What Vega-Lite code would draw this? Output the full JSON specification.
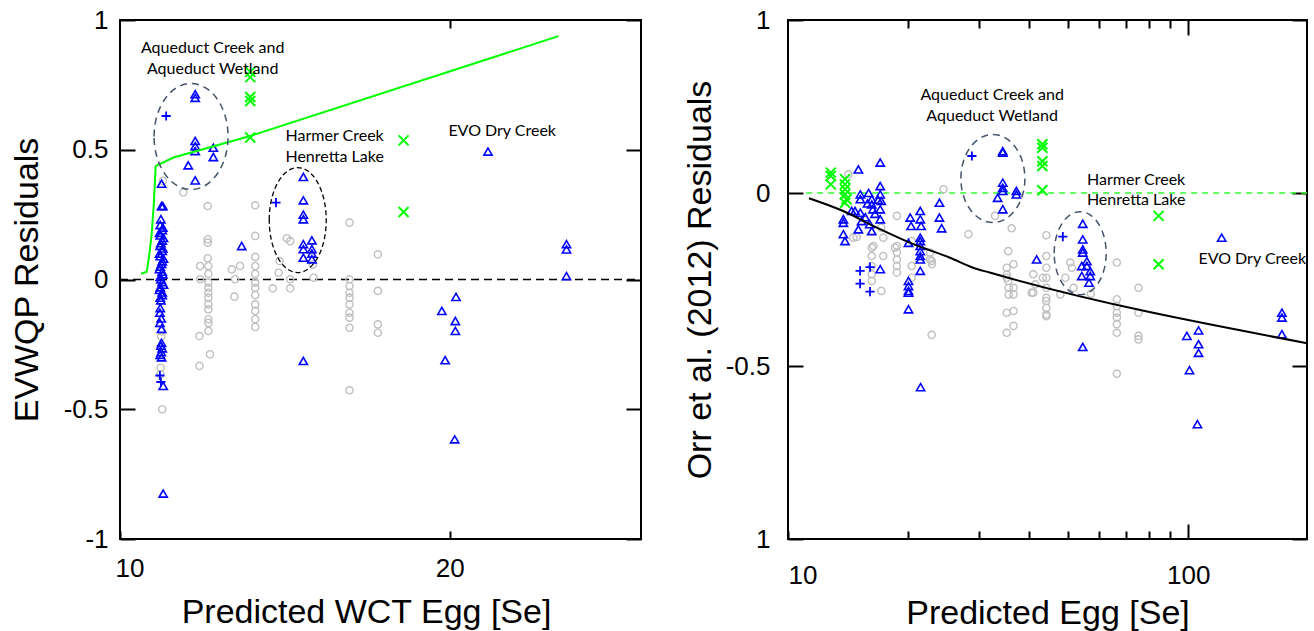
{
"$schema": "https://vega.github.io/schema/vega-lite/v6.json",
"background": "white",
"padding": {"left": 9, "top": 6, "right": 3, "bottom": 0},
"spacing": 37,
"config": {
  "view": {"stroke": "black", "strokeWidth": 2},
  "axis": {"grid": false, "domain": false, "labelFont": "Liberation Sans", "labelFontSize": 26, "labelColor": "black", "titleFont": "Liberation Sans", "titleFontSize": 34, "titleFontWeight": "normal", "titleColor": "black", "tickColor": "black", "tickWidth": 2, "labelAngle": 0},
  "text": {"font": "Lato", "fontSize": 16, "color": "black"}
},
"datasets": {
  "zeroL": [{"x": 10, "y": 0}, {"x": 25.8, "y": 0}],
  "zeroR": [{"x": 11.1, "y": 0}, {"x": 198, "y": 0}],
  "curveL": [{"x":10.64,"y":0.022},{"x":10.81,"y":0.03},{"x":10.89,"y":0.097},{"x":10.96,"y":0.175},{"x":11.03,"y":0.3},{"x":11.08,"y":0.437},{"x":11.62,"y":0.47},{"x":13.95,"y":0.553},{"x":23.3,"y":0.938}],
  "curveR": [{"x":11.28,"y":-0.015},{"x":13.74,"y":-0.052},{"x":16.67,"y":-0.1},{"x":20.5,"y":-0.147},{"x":25.4,"y":-0.187},{"x":29.0,"y":-0.216},{"x":31.9,"y":-0.23},{"x":198,"y":-0.434}],
  "textL": [
    {"x":12.81,"y":0.893,"t":"Aqueduct Creek and"},{"x":12.81,"y":0.812,"t":"Aqueduct Wetland"},
    {"x":16.51,"y":0.553,"t":"Harmer Creek"},{"x":16.51,"y":0.472,"t":"Henretta Lake"},
    {"x":21.59,"y":0.572,"t":"EVO Dry Creek"}],
  "textR": [
    {"x":32.36,"y":0.283,"t":"Aqueduct Creek and"},{"x":32.36,"y":0.2225,"t":"Aqueduct Wetland"},
    {"x":74.1,"y":0.0376,"t":"Harmer Creek"},{"x":74.1,"y":-0.021,"t":"Henretta Lake"},
    {"x":144.5,"y":-0.19,"t":"EVO Dry Creek"}],
  "ellL": [{"name":"Aqueduct","x":12.155,"y":0.551},{"name":"Harmer","x":15.39,"y":0.229}],
  "ellR": [{"name":"Aqueduct","x":32.5,"y":0.042},{"name":"Harmer","x":53.7,"y":-0.174}],
  "pointsL": [
{"x":11.92,"y":0.335,"g":"A"},{"x":12.66,"y":0.283,"g":"A"},{"x":14.1,"y":0.286,"g":"A"},{"x":12.66,"y":0.155,"g":"A"},{"x":12.66,"y":0.142,"g":"A"},{"x":14.1,"y":0.168,"g":"A"},{"x":15.06,"y":0.159,"g":"A"},{"x":15.16,"y":0.148,"g":"A"},{"x":16.96,"y":0.219,"g":"A"},{"x":17.82,"y":0.097,"g":"A"},
{"x":12.66,"y":0.082,"g":"A"},{"x":12.43,"y":0.052,"g":"A"},{"x":12.68,"y":0.052,"g":"A"},{"x":12.68,"y":0.022,"g":"A"},{"x":14.1,"y":0.087,"g":"A"},{"x":14.1,"y":0.052,"g":"A"},{"x":14.1,"y":0.022,"g":"A"},{"x":13.39,"y":0.039,"g":"A"},{"x":13.64,"y":0.052,"g":"A"},{"x":13.49,"y":0.001,"g":"A"},
{"x":14.84,"y":0.071,"g":"A"},{"x":14.81,"y":0.026,"g":"A"},{"x":15.16,"y":0.001,"g":"A"},{"x":15.85,"y":0.058,"g":"A"},{"x":15.87,"y":0.007,"g":"A"},{"x":16.96,"y":0.001,"g":"A"},{"x":16.96,"y":-0.025,"g":"A"},{"x":16.96,"y":-0.051,"g":"A"},{"x":16.96,"y":-0.07,"g":"A"},{"x":17.82,"y":-0.044,"g":"A"},
{"x":12.43,"y":0.001,"g":"A"},{"x":12.68,"y":-0.012,"g":"A"},{"x":12.68,"y":-0.032,"g":"A"},{"x":12.68,"y":-0.051,"g":"A"},{"x":12.68,"y":-0.07,"g":"A"},{"x":14.1,"y":-0.012,"g":"A"},{"x":14.1,"y":-0.032,"g":"A"},{"x":14.1,"y":-0.06,"g":"A"},{"x":13.47,"y":-0.066,"g":"A"},{"x":14.63,"y":-0.034,"g":"A"},
{"x":15.16,"y":-0.034,"g":"A"},{"x":12.68,"y":-0.096,"g":"A"},{"x":12.68,"y":-0.115,"g":"A"},{"x":12.68,"y":-0.153,"g":"A"},{"x":12.68,"y":-0.167,"g":"A"},{"x":12.68,"y":-0.198,"g":"A"},{"x":12.41,"y":-0.218,"g":"A"},{"x":12.73,"y":-0.288,"g":"A"},{"x":12.41,"y":-0.333,"g":"A"},{"x":14.1,"y":-0.096,"g":"A"},
{"x":14.1,"y":-0.121,"g":"A"},{"x":14.1,"y":-0.153,"g":"A"},{"x":14.1,"y":-0.183,"g":"A"},{"x":16.96,"y":-0.096,"g":"A"},{"x":16.96,"y":-0.128,"g":"A"},{"x":16.96,"y":-0.147,"g":"A"},{"x":16.96,"y":-0.186,"g":"A"},{"x":16.96,"y":-0.427,"g":"A"},{"x":17.82,"y":-0.173,"g":"A"},{"x":17.82,"y":-0.205,"g":"A"},
{"x":11.28,"y":-0.5,"g":"A"},{"x":11.23,"y":-0.34,"g":"A"},{"x":11.23,"y":-0.365,"g":"A"},{"x":11.3,"y":0.38,"g":"A"},{"x":11.25,"y":-0.22,"g":"A"},{"x":11.27,"y":-0.2,"g":"A"},
{"x":12.28,"y":0.714,"g":"B"},{"x":12.28,"y":0.7,"g":"B"},{"x":12.28,"y":0.534,"g":"B"},{"x":12.28,"y":0.514,"g":"B"},{"x":12.28,"y":0.495,"g":"B"},{"x":12.83,"y":0.508,"g":"B"},{"x":12.83,"y":0.472,"g":"B"},{"x":12.07,"y":0.44,"g":"B"},{"x":12.28,"y":0.382,"g":"B"},
{"x":15.56,"y":0.395,"g":"B"},{"x":15.56,"y":0.305,"g":"B"},{"x":15.56,"y":0.25,"g":"B"},{"x":15.56,"y":0.232,"g":"B"},{"x":15.56,"y":0.136,"g":"B"},{"x":15.82,"y":0.151,"g":"B"},{"x":15.56,"y":0.117,"g":"B"},{"x":15.82,"y":0.117,"g":"B"},{"x":15.56,"y":0.084,"g":"B"},{"x":15.82,"y":0.078,"g":"B"},{"x":15.82,"y":0.1,"g":"B"},
{"x":13.69,"y":0.129,"g":"B"},
{"x":11.26,"y":0.369,"g":"B"},{"x":11.26,"y":0.283,"g":"B"},{"x":11.3,"y":0.283,"g":"B"},{"x":11.24,"y":0.232,"g":"B"},
{"x":11.22,"y":0.21,"g":"B"},{"x":11.28,"y":0.19,"g":"B"},{"x":11.22,"y":0.17,"g":"B"},{"x":11.28,"y":0.15,"g":"B"},{"x":11.22,"y":0.13,"g":"B"},{"x":11.28,"y":0.11,"g":"B"},{"x":11.22,"y":0.09,"g":"B"},{"x":11.28,"y":0.07,"g":"B"},{"x":11.22,"y":0.05,"g":"B"},{"x":11.28,"y":0.03,"g":"B"},{"x":11.22,"y":0.01,"g":"B"},{"x":11.28,"y":-0.01,"g":"B"},{"x":11.22,"y":-0.03,"g":"B"},{"x":11.28,"y":-0.05,"g":"B"},{"x":11.22,"y":-0.07,"g":"B"},
{"x":11.3,"y":0.2,"g":"B"},{"x":11.2,"y":0.18,"g":"B"},{"x":11.32,"y":0.16,"g":"B"},{"x":11.24,"y":0.14,"g":"B"},{"x":11.3,"y":0.12,"g":"B"},{"x":11.2,"y":0.1,"g":"B"},{"x":11.32,"y":0.08,"g":"B"},{"x":11.26,"y":0.06,"g":"B"},{"x":11.2,"y":0.04,"g":"B"},{"x":11.3,"y":0.02,"g":"B"},{"x":11.24,"y":0.0,"g":"B"},{"x":11.32,"y":-0.02,"g":"B"},{"x":11.2,"y":-0.04,"g":"B"},{"x":11.28,"y":-0.06,"g":"B"},{"x":11.24,"y":-0.08,"g":"B"},
{"x":11.22,"y":-0.11,"g":"B"},{"x":11.21,"y":-0.128,"g":"B"},{"x":11.25,"y":-0.15,"g":"B"},{"x":11.21,"y":-0.167,"g":"B"},{"x":11.26,"y":-0.19,"g":"B"},{"x":11.26,"y":-0.244,"g":"B"},{"x":11.24,"y":-0.255,"g":"B"},{"x":11.28,"y":-0.265,"g":"B"},{"x":11.25,"y":-0.28,"g":"B"},{"x":11.26,"y":-0.3,"g":"B"},{"x":11.22,"y":-0.29,"g":"B"},{"x":11.31,"y":-0.41,"g":"B"},{"x":11.31,"y":-0.825,"g":"B"},
{"x":19.76,"y":-0.121,"g":"B"},{"x":20.17,"y":-0.16,"g":"B"},{"x":20.17,"y":-0.198,"g":"B"},{"x":19.86,"y":-0.311,"g":"B"},{"x":20.15,"y":-0.616,"g":"B"},{"x":20.19,"y":-0.067,"g":"B"},{"x":23.54,"y":0.136,"g":"B"},{"x":23.54,"y":0.116,"g":"B"},{"x":23.54,"y":0.013,"g":"B"},{"x":21.16,"y":0.493,"g":"B"},{"x":15.56,"y":-0.314,"g":"B"},
{"x":11.4,"y":0.63,"g":"C"},{"x":14.73,"y":0.296,"g":"C"},{"x":11.21,"y":-0.37,"g":"C"},{"x":11.24,"y":-0.395,"g":"C"},
{"x":13.95,"y":0.8,"g":"D"},{"x":13.95,"y":0.78,"g":"D"},{"x":13.95,"y":0.703,"g":"D"},{"x":13.95,"y":0.688,"g":"D"},{"x":13.95,"y":0.547,"g":"D"},{"x":18.6,"y":0.536,"g":"D"},{"x":18.6,"y":0.26,"g":"D"}
  ],
  "pointsR": [
{"x":14.15,"y":0.054,"g":"A"},{"x":18.71,"y":-0.066,"g":"A"},{"x":16.19,"y":-0.158,"g":"A"},{"x":17.3,"y":-0.129,"g":"A"},{"x":16.19,"y":-0.182,"g":"A"},{"x":17.3,"y":-0.182,"g":"A"},{"x":16.19,"y":-0.211,"g":"A"},{"x":16.19,"y":-0.235,"g":"A"},{"x":16.19,"y":-0.254,"g":"A"},{"x":17.1,"y":-0.283,"g":"A"},
{"x":14.56,"y":-0.129,"g":"A"},{"x":18.71,"y":-0.153,"g":"A"},{"x":18.71,"y":-0.172,"g":"A"},{"x":18.71,"y":-0.192,"g":"A"},{"x":18.71,"y":-0.211,"g":"A"},{"x":18.71,"y":-0.23,"g":"A"},{"x":20.38,"y":-0.139,"g":"A"},{"x":20.38,"y":-0.211,"g":"A"},{"x":20.38,"y":-0.245,"g":"A"},{"x":22.65,"y":-0.172,"g":"A"},
{"x":22.65,"y":-0.192,"g":"A"},{"x":22.9,"y":-0.206,"g":"A"},{"x":24.46,"y":0.011,"g":"A"},{"x":28.23,"y":-0.119,"g":"A"},{"x":36.2,"y":-0.102,"g":"A"},{"x":35.5,"y":-0.168,"g":"A"},{"x":35.2,"y":-0.216,"g":"A"},{"x":35.2,"y":-0.235,"g":"A"},{"x":35.5,"y":-0.254,"g":"A"},{"x":35.6,"y":-0.274,"g":"A"},
{"x":35.6,"y":-0.293,"g":"A"},{"x":41,"y":-0.235,"g":"A"},{"x":43.3,"y":-0.245,"g":"A"},{"x":41.5,"y":-0.264,"g":"A"},{"x":41,"y":-0.288,"g":"A"},{"x":32.9,"y":-0.066,"g":"A"},{"x":44.2,"y":-0.122,"g":"A"},{"x":44.2,"y":-0.182,"g":"A"},{"x":44.2,"y":-0.216,"g":"A"},{"x":44.2,"y":-0.245,"g":"A"},
{"x":44.2,"y":-0.274,"g":"A"},{"x":44.2,"y":-0.303,"g":"A"},{"x":44.2,"y":-0.332,"g":"A"},{"x":44.2,"y":-0.351,"g":"A"},{"x":36.6,"y":-0.206,"g":"A"},{"x":35.2,"y":-0.245,"g":"A"},{"x":36.6,"y":-0.274,"g":"A"},{"x":36.6,"y":-0.293,"g":"A"},{"x":35.2,"y":-0.346,"g":"A"},{"x":36.6,"y":-0.341,"g":"A"},
{"x":35.2,"y":-0.404,"g":"A"},{"x":36.6,"y":-0.384,"g":"A"},{"x":50.7,"y":-0.201,"g":"A"},{"x":51.2,"y":-0.216,"g":"A"},{"x":49.3,"y":-0.245,"g":"A"},{"x":47.9,"y":-0.293,"g":"A"},{"x":51.7,"y":-0.274,"g":"A"},{"x":66.3,"y":-0.201,"g":"A"},{"x":66.3,"y":-0.307,"g":"A"},{"x":66.3,"y":-0.327,"g":"A"},
{"x":66.3,"y":-0.346,"g":"A"},{"x":66.3,"y":-0.36,"g":"A"},{"x":66.3,"y":-0.379,"g":"A"},{"x":66.3,"y":-0.404,"g":"A"},{"x":66.3,"y":-0.522,"g":"A"},{"x":75.1,"y":-0.274,"g":"A"},{"x":75.1,"y":-0.346,"g":"A"},{"x":75.1,"y":-0.413,"g":"A"},{"x":75.1,"y":-0.423,"g":"A"},{"x":57.1,"y":-0.291,"g":"A"},
{"x":44.2,"y":-0.312,"g":"A"},{"x":44.2,"y":-0.356,"g":"A"},{"x":22.86,"y":-0.41,"g":"A"},{"x":40.6,"y":-0.288,"g":"A"},{"x":14.85,"y":-0.127,"g":"A"},{"x":16.35,"y":-0.153,"g":"A"},{"x":18.5,"y":-0.158,"g":"A"},{"x":22.86,"y":-0.197,"g":"A"},{"x":17.1,"y":-0.1,"g":"A"},
{"x":14.99,"y":0.068,"g":"B"},{"x":17.0,"y":0.088,"g":"B"},{"x":17.0,"y":0.02,"g":"B"},{"x":17.0,"y":-0.004,"g":"B"},{"x":17.1,"y":-0.023,"g":"B"},{"x":17.0,"y":-0.047,"g":"B"},{"x":17.0,"y":-0.076,"g":"B"},{"x":15.16,"y":-0.004,"g":"B"},{"x":15.16,"y":-0.018,"g":"B"},{"x":16.19,"y":-0.018,"g":"B"},
{"x":16.19,"y":-0.033,"g":"B"},{"x":16.3,"y":-0.047,"g":"B"},{"x":14.42,"y":-0.052,"g":"B"},{"x":14.7,"y":-0.052,"g":"B"},{"x":15.16,"y":-0.057,"g":"B"},{"x":15.27,"y":-0.081,"g":"B"},{"x":13.75,"y":-0.076,"g":"B"},{"x":13.75,"y":-0.086,"g":"B"},{"x":13.75,"y":-0.119,"g":"B"},{"x":13.88,"y":-0.139,"g":"B"},
{"x":14.99,"y":-0.105,"g":"B"},{"x":16.19,"y":-0.11,"g":"B"},{"x":16.0,"y":-0.09,"g":"B"},{"x":15.8,"y":-0.03,"g":"B"},{"x":16.5,"y":-0.06,"g":"B"},{"x":15.6,"y":-0.07,"g":"B"},{"x":16.8,"y":-0.02,"g":"B"},{"x":15.9,"y":0.0,"g":"B"},
{"x":20.2,"y":-0.071,"g":"B"},{"x":20.3,"y":-0.095,"g":"B"},{"x":20.0,"y":-0.144,"g":"B"},{"x":21.4,"y":-0.052,"g":"B"},{"x":21.4,"y":-0.076,"g":"B"},{"x":21.5,"y":-0.095,"g":"B"},{"x":21.4,"y":-0.129,"g":"B"},{"x":21.4,"y":-0.139,"g":"B"},{"x":21.4,"y":-0.153,"g":"B"},{"x":21.4,"y":-0.168,"g":"B"},
{"x":21.4,"y":-0.182,"g":"B"},{"x":21.4,"y":-0.192,"g":"B"},{"x":21.4,"y":-0.225,"g":"B"},{"x":17.0,"y":-0.22,"g":"B"},{"x":20.0,"y":-0.254,"g":"B"},{"x":20.0,"y":-0.269,"g":"B"},{"x":20.0,"y":-0.283,"g":"B"},{"x":20.0,"y":-0.288,"g":"B"},{"x":23.9,"y":-0.028,"g":"B"},{"x":23.9,"y":-0.071,"g":"B"},
{"x":24.2,"y":-0.102,"g":"B"},{"x":34.4,"y":0.121,"g":"B"},{"x":34.4,"y":0.117,"g":"B"},{"x":34.4,"y":0.03,"g":"B"},{"x":34.4,"y":0.015,"g":"B"},{"x":34.4,"y":0.006,"g":"B"},{"x":33.4,"y":-0.014,"g":"B"},{"x":37.2,"y":0.006,"g":"B"},{"x":37.2,"y":-0.004,"g":"B"},{"x":34.4,"y":-0.047,"g":"B"},
{"x":41.8,"y":-0.192,"g":"B"},{"x":54.5,"y":-0.089,"g":"B"},{"x":54.5,"y":-0.134,"g":"B"},{"x":54.5,"y":-0.163,"g":"B"},{"x":54.5,"y":-0.172,"g":"B"},{"x":54.2,"y":-0.211,"g":"B"},{"x":55.8,"y":-0.197,"g":"B"},{"x":56.9,"y":-0.226,"g":"B"},{"x":54.2,"y":-0.24,"g":"B"},{"x":55.8,"y":-0.211,"g":"B"},
{"x":56.9,"y":-0.24,"g":"B"},{"x":56.5,"y":-0.259,"g":"B"},{"x":121.2,"y":-0.129,"g":"B"},{"x":171.4,"y":-0.346,"g":"B"},{"x":171.4,"y":-0.36,"g":"B"},{"x":171.4,"y":-0.408,"g":"B"},{"x":54.5,"y":-0.445,"g":"B"},{"x":99.2,"y":-0.413,"g":"B"},{"x":106.1,"y":-0.397,"g":"B"},{"x":106.1,"y":-0.437,"g":"B"},
{"x":106.1,"y":-0.462,"g":"B"},{"x":100.7,"y":-0.512,"g":"B"},{"x":105.4,"y":-0.668,"g":"B"},{"x":20.0,"y":-0.336,"g":"B"},{"x":21.44,"y":-0.561,"g":"B"},
{"x":15.14,"y":-0.225,"g":"C"},{"x":16.03,"y":-0.214,"g":"C"},{"x":15.14,"y":-0.262,"g":"C"},{"x":16.03,"y":-0.285,"g":"C"},{"x":28.8,"y":0.107,"g":"C"},{"x":48.6,"y":-0.126,"g":"C"},
{"x":12.79,"y":0.059,"g":"D"},{"x":12.79,"y":0.049,"g":"D"},{"x":12.79,"y":0.025,"g":"D"},{"x":13.88,"y":0.04,"g":"D"},{"x":13.88,"y":0.025,"g":"D"},{"x":13.88,"y":0.011,"g":"D"},{"x":13.88,"y":-0.004,"g":"D"},{"x":14.0,"y":-0.018,"g":"D"},{"x":13.88,"y":-0.028,"g":"D"},
{"x":43.2,"y":0.141,"g":"D"},{"x":43.2,"y":0.131,"g":"D"},{"x":43.2,"y":0.092,"g":"D"},{"x":43.2,"y":0.078,"g":"D"},{"x":43.2,"y":0.008,"g":"D"},{"x":84.3,"y":-0.066,"g":"D"},{"x":84.3,"y":-0.206,"g":"D"}
  ]
},
"hconcat": [
 {
  "width": 521, "height": 519,
  "resolve": {"axis": {"x": "independent", "y": "independent"}},
  "layer": [
   {"data": {"name": "zeroL"},
    "mark": {"type": "line", "color": "black", "strokeWidth": 1.5, "strokeDash": [8, 5]},
    "encoding": {
      "x": {"field": "x", "type": "quantitative", "scale": {"domain": [10, 25.8], "nice": false, "zero": false}, "axis": null},
      "y": {"field": "y", "type": "quantitative", "scale": {"domain": [-1, 1], "nice": false}, "axis": null}}},
   {"data": {"name": "pointsL"},
    "mark": {"type": "point", "filled": false, "opacity": 1},
    "encoding": {
      "x": {"field": "x", "type": "quantitative", "scale": {"domain": [10, 25.8], "nice": false, "zero": false},
            "axis": {"orient": "bottom", "values": [10, 20], "tickSize": -8, "labelPadding": 24, "labelFlush": true, "labelFlushOffset": 5, "title": "Predicted WCT Egg [Se]", "titlePadding": 14, "titleX": 246}},
      "y": {"field": "y", "type": "quantitative", "scale": {"domain": [-1, 1], "nice": false},
            "axis": {"orient": "left", "values": [1, 0.5, 0, -0.5, -1], "tickSize": -15, "labelPadding": 27, "labelExpr": "toString(datum.value)", "title": "EVWQP Residuals", "titlePadding": 19}},
      "shape": {"field": "g", "type": "nominal", "scale": {"domain": ["A", "B", "C", "D"], "range": ["circle", "triangle-up", "M-1,0H1M0,-1V1", "M-1,-1L1,1M-1,1L1,-1"]}, "legend": null},
      "color": {"field": "g", "type": "nominal", "scale": {"domain": ["A", "B", "C", "D"], "range": ["#c0c0c0", "#0000ff", "#0000ff", "#00ff00"]}, "legend": null},
      "size": {"field": "g", "type": "nominal", "scale": {"domain": ["A", "B", "C", "D"], "range": [52, 100, 100, 85]}, "legend": null},
      "strokeWidth": {"field": "g", "type": "nominal", "scale": {"domain": ["A", "B", "C", "D"], "range": [1.4, 2, 1.8, 1.6]}, "legend": null}}},
   {"data": {"name": "curveL"},
    "mark": {"type": "line", "color": "#00ff00", "strokeWidth": 2},
    "encoding": {
      "x": {"field": "x", "type": "quantitative", "scale": {"domain": [10, 25.8], "nice": false, "zero": false},
            "axis": {"orient": "top", "values": [20], "tickSize": -8, "labels": false, "title": null}},
      "y": {"field": "y", "type": "quantitative", "scale": {"domain": [-1, 1], "nice": false},
            "axis": {"orient": "right", "values": [1, 0.5, 0, -0.5, -1], "tickSize": -15, "labels": false, "title": null}}}},
   {"data": {"name": "textL"},
    "mark": {"type": "text"},
    "encoding": {
      "x": {"field": "x", "type": "quantitative", "scale": {"domain": [10, 25.8], "nice": false, "zero": false}, "axis": null},
      "y": {"field": "y", "type": "quantitative", "scale": {"domain": [-1, 1], "nice": false}, "axis": null},
      "text": {"field": "t"}}},
   {"data": {"name": "ellL"},
    "transform": [{"filter": "datum.name == 'Aqueduct'"}],
    "mark": {"type": "point", "filled": false, "opacity": 1, "shape": "M-1,0A1,1.432,0,1,1,1,0A1,1.432,0,1,1,-1,0Z", "size": 5476, "color": "#44546a", "strokeWidth": 1.5, "strokeDash": [7, 5]},
    "encoding": {
      "x": {"field": "x", "type": "quantitative", "scale": {"domain": [10, 25.8], "nice": false, "zero": false}, "axis": null},
      "y": {"field": "y", "type": "quantitative", "scale": {"domain": [-1, 1], "nice": false}, "axis": null}}},
   {"data": {"name": "ellL"},
    "transform": [{"filter": "datum.name == 'Harmer'"}],
    "mark": {"type": "point", "filled": false, "opacity": 1, "shape": "M-1,0A1,1.842,0,1,1,1,0A1,1.842,0,1,1,-1,0Z", "size": 3249, "color": "#000000", "strokeWidth": 1.3, "strokeDash": [5, 3]},
    "encoding": {
      "x": {"field": "x", "type": "quantitative", "scale": {"domain": [10, 25.8], "nice": false, "zero": false}, "axis": null},
      "y": {"field": "y", "type": "quantitative", "scale": {"domain": [-1, 1], "nice": false}, "axis": null}}}
  ]
 },
 {
  "width": 519, "height": 519,
  "resolve": {"axis": {"x": "independent", "y": "independent"}},
  "layer": [
   {"data": {"name": "zeroR"},
    "mark": {"type": "line", "color": "#33ff33", "strokeWidth": 1.5, "strokeDash": [6, 5]},
    "encoding": {
      "x": {"field": "x", "type": "quantitative", "scale": {"type": "log", "domain": [10, 198], "nice": false},
            "axis": {"orient": "bottom", "values": [100], "tickSize": -15, "labelPadding": 38, "labelExpr": "toString(datum.value)", "title": null}},
      "y": {"field": "y", "type": "quantitative", "scale": {"domain": [-1, 0.5], "nice": false}, "axis": null}}},
   {"data": {"name": "pointsR"},
    "mark": {"type": "point", "filled": false, "opacity": 1},
    "encoding": {
      "x": {"field": "x", "type": "quantitative", "scale": {"type": "log", "domain": [10, 198], "nice": false},
            "axis": {"orient": "bottom", "values": [10, 20, 30, 40, 50, 60, 70, 80, 90], "tickSize": -8, "labelPadding": 31, "labelExpr": "datum.value == 10 ? '10' : ''", "title": "Predicted Egg [Se]", "titlePadding": 8}},
      "y": {"field": "y", "type": "quantitative", "scale": {"domain": [-1, 0.5], "nice": false},
            "axis": {"orient": "left", "values": [0.5, 0, -0.5, -1], "tickSize": -15, "labelPadding": 33, "labelExpr": "datum.value == 0.5 || datum.value == -1 ? '1' : toString(datum.value)", "title": "Orr et al. (2012) Residuals", "titlePadding": 8}},
      "shape": {"field": "g", "type": "nominal", "scale": {"domain": ["A", "B", "C", "D"], "range": ["circle", "triangle-up", "M-1,0H1M0,-1V1", "M-1,-1L1,1M-1,1L1,-1"]}, "legend": null},
      "color": {"field": "g", "type": "nominal", "scale": {"domain": ["A", "B", "C", "D"], "range": ["#c0c0c0", "#0000ff", "#0000ff", "#00ff00"]}, "legend": null},
      "size": {"field": "g", "type": "nominal", "scale": {"domain": ["A", "B", "C", "D"], "range": [52, 100, 100, 85]}, "legend": null},
      "strokeWidth": {"field": "g", "type": "nominal", "scale": {"domain": ["A", "B", "C", "D"], "range": [1.4, 2, 1.8, 1.6]}, "legend": null}}},
   {"data": {"name": "curveR"},
    "mark": {"type": "line", "color": "black", "strokeWidth": 2, "interpolate": "monotone"},
    "encoding": {
      "x": {"field": "x", "type": "quantitative", "scale": {"type": "log", "domain": [10, 198], "nice": false},
            "axis": {"orient": "top", "values": [20, 30, 40, 50, 60, 70, 80, 90], "tickSize": -8, "labels": false, "title": null}},
      "y": {"field": "y", "type": "quantitative", "scale": {"domain": [-1, 0.5], "nice": false},
            "axis": {"orient": "right", "values": [0.5, 0, -0.5, -1], "tickSize": -15, "labels": false, "title": null}}}},
   {"data": {"name": "textR"},
    "mark": {"type": "text"},
    "encoding": {
      "x": {"field": "x", "type": "quantitative", "scale": {"type": "log", "domain": [10, 198], "nice": false},
            "axis": {"orient": "top", "values": [100], "tickSize": -15, "labels": false, "title": null}},
      "y": {"field": "y", "type": "quantitative", "scale": {"domain": [-1, 0.5], "nice": false}, "axis": null},
      "text": {"field": "t"}}},
   {"data": {"name": "ellR"},
    "transform": [{"filter": "datum.name == 'Aqueduct'"}],
    "mark": {"type": "point", "filled": false, "opacity": 1, "shape": "M-1,0A1,1.375,0,1,1,1,0A1,1.375,0,1,1,-1,0Z", "size": 4096, "color": "#44546a", "strokeWidth": 1.5, "strokeDash": [7, 5]},
    "encoding": {
      "x": {"field": "x", "type": "quantitative", "scale": {"type": "log", "domain": [10, 198], "nice": false}, "axis": null},
      "y": {"field": "y", "type": "quantitative", "scale": {"domain": [-1, 0.5], "nice": false}, "axis": null}}},
   {"data": {"name": "ellR"},
    "transform": [{"filter": "datum.name == 'Harmer'"}],
    "mark": {"type": "point", "filled": false, "opacity": 1, "shape": "M-1,0A1,1.596,0,1,1,1,0A1,1.596,0,1,1,-1,0Z", "size": 2704, "color": "#44546a", "strokeWidth": 1.5, "strokeDash": [7, 5]},
    "encoding": {
      "x": {"field": "x", "type": "quantitative", "scale": {"type": "log", "domain": [10, 198], "nice": false}, "axis": null},
      "y": {"field": "y", "type": "quantitative", "scale": {"domain": [-1, 0.5], "nice": false}, "axis": null}}}
  ]
 }
]
}
